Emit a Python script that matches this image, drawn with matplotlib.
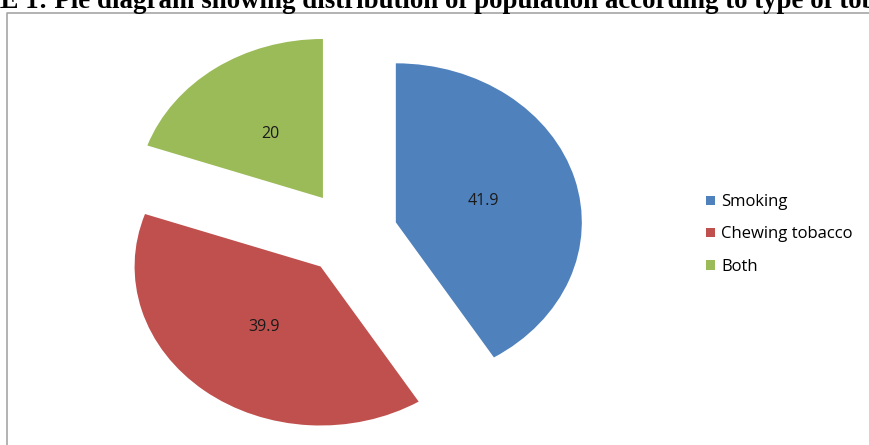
import numpy as np
import matplotlib
matplotlib.use('Agg')
import matplotlib.pyplot as plt
from matplotlib.lines import Line2D

# data
categories = ['Smoking', 'Chewing tobacco', 'Both']
values = [41.9, 39.9, 20]
colors = ['#4F81BD', '#C0504D', '#9BBB59']

W, H = 869, 445
fig = plt.figure(figsize=(W / 100, H / 100), dpi=100)

# pie axes: unit radius -> 186 px across, 159 px down (stretched like the source)
cx, cy = 352, 233
rx, ry = 186, 159
ax = fig.add_axes([0, 0, 1, 1])
ax.axis('off')

def fmt(p):
    v = p * sum(values) / 100
    return '%g' % round(v, 1)

wedges, texts, autotexts = ax.pie(values, colors=colors, startangle=90, counterclock=False,
                                  explode=[0.245, 0.27, 0.27], autopct=fmt, pctdistance=0.49,
                                  wedgeprops={'linewidth': 0},
                                  textprops={'fontsize': 11.5, 'color': '#1a1a1a', 'family': 'Open Sans'})
ax.set_aspect('auto')
ax.set_xlim(-cx / rx, (W - cx) / rx)
ax.set_ylim(-(H - cy) / ry, cy / ry)

# chart border (cropped screenshot: only left and top edges visible)
fig.add_artist(Line2D([7.5 / W, 7.5 / W, 1.0], [0.0, 1 - 12.5 / H, 1 - 12.5 / H],
                      transform=fig.transFigure, color='#a6a6a6', linewidth=1.2))

# legend
fig.legend(wedges, categories, loc='upper left', bbox_to_anchor=(698 / W, 1 - 186 / H),
           frameon=False, handlelength=0.5, handleheight=0.5,
           handletextpad=0.4, labelspacing=0.97, borderpad=0,
           prop={'family': 'Open Sans', 'size': 12})

# title cut off by the screenshot edges: size it so that "...type of tob" reaches the right edge
title = 'FIGURE 1: Pie diagram showing distribution of population according to type of tobacco use'
renderer = fig.canvas.get_renderer()
def width(s, size):
    t = fig.text(0, 0, s, fontsize=size, fontweight='bold', family='Liberation Serif')
    w = t.get_window_extent(renderer).width
    t.remove()
    return w
visible = 'E 1: Pie diagram showing distribution of population according to type of to'
tsize = 20 * 862 / width(visible, 20)
shift = width('FIGUR', tsize)
fig.text(-shift / W, 1 - 8 / H, title, fontsize=tsize, fontweight='bold',
         family='Liberation Serif', ha='left', va='baseline', color='black')

fig.savefig('out.png', dpi=100)
